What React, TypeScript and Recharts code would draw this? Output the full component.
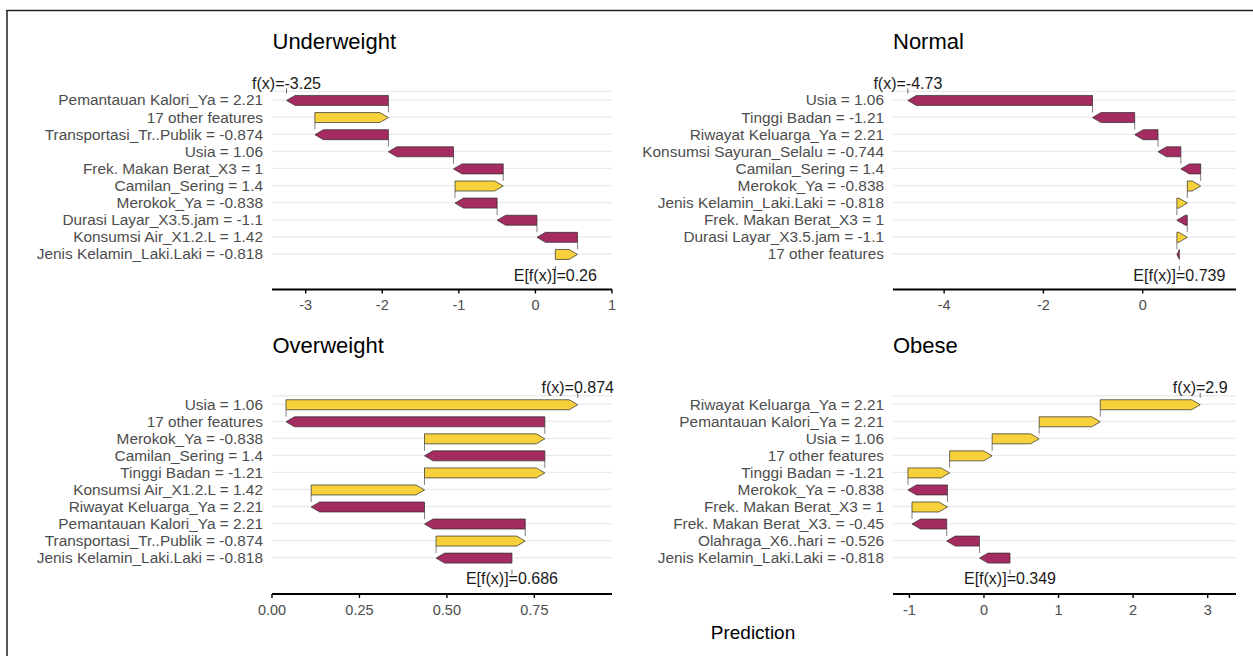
import React from 'react';
import { Bar, BarChart, CartesianGrid, XAxis, YAxis } from 'recharts';

const YELLOW = '#f6d13b';
const PURPLE = '#a52c60';
const FONT = '"Liberation Sans", Arial, sans-serif';
const HEAD = 8.5;
const ROW_GAP = 7;

// rows are listed top to bottom, values are SHAP contributions
const underweightFeatures = [
  'Pemantauan Kalori_Ya = 2.21',
  '17 other features',
  'Transportasi_Tr..Publik = -0.874',
  'Usia = 1.06',
  'Frek. Makan Berat_X3 = 1',
  'Camilan_Sering = 1.4',
  'Merokok_Ya = -0.838',
  'Durasi Layar_X3.5.jam = -1.1',
  'Konsumsi Air_X1.2.L = 1.42',
  'Jenis Kelamin_Laki.Laki = -0.818',
];
const underweightShap = [-1.33, 0.96, -0.96, -0.85, -0.65, 0.63, -0.55, -0.52, -0.53, 0.29];
const underweightBase = 0.26;
const underweightTicks = [-3, -2, -1, 0, 1];

const normalFeatures = [
  'Usia = 1.06',
  'Tinggi Badan = -1.21',
  'Riwayat Keluarga_Ya = 2.21',
  'Konsumsi Sayuran_Selalu = -0.744',
  'Camilan_Sering = 1.4',
  'Merokok_Ya = -0.838',
  'Jenis Kelamin_Laki.Laki = -0.818',
  'Frek. Makan Berat_X3 = 1',
  'Durasi Layar_X3.5.jam = -1.1',
  '17 other features',
];
const normalShap = [-3.72, -0.85, -0.47, -0.46, -0.4, 0.27, 0.21, -0.21, 0.21, -0.05];
const normalBase = 0.739;
const normalTicks = [-4, -2, 0];

const overweightFeatures = [
  'Usia = 1.06',
  '17 other features',
  'Merokok_Ya = -0.838',
  'Camilan_Sering = 1.4',
  'Tinggi Badan = -1.21',
  'Konsumsi Air_X1.2.L = 1.42',
  'Riwayat Keluarga_Ya = 2.21',
  'Pemantauan Kalori_Ya = 2.21',
  'Transportasi_Tr..Publik = -0.874',
  'Jenis Kelamin_Laki.Laki = -0.818',
];
const overweightShap = [0.834, -0.74, 0.344, -0.344, 0.344, 0.324, -0.324, -0.288, 0.255, -0.217];
const overweightBase = 0.686;
const overweightTicks = [0, 0.25, 0.5, 0.75];

const obeseFeatures = [
  'Riwayat Keluarga_Ya = 2.21',
  'Pemantauan Kalori_Ya = 2.21',
  'Usia = 1.06',
  '17 other features',
  'Tinggi Badan = -1.21',
  'Merokok_Ya = -0.838',
  'Frek. Makan Berat_X3 = 1',
  'Frek. Makan Berat_X3. = -0.45',
  'Olahraga_X6..hari = -0.526',
  'Jenis Kelamin_Laki.Laki = -0.818',
];
const obeseShap = [1.34, 0.82, 0.63, 0.57, 0.56, -0.53, 0.475, -0.465, -0.44, -0.409];
const obeseBase = 0.349;
const obeseTicks = [-1, 0, 1, 2, 3];

type Row = { label: string; start: number; end: number };

function buildRows(labels: string[], shap: number[], base: number): Row[] {
  const rows = labels.map((label) => ({ label, start: 0, end: 0 }));
  let acc = base;
  for (let i = labels.length - 1; i >= 0; i--) {
    rows[i].start = acc;
    acc += shap[i];
    rows[i].end = acc;
  }
  return rows;
}

const fmt = (v: number) => String(Number(v.toPrecision(3)));

function makeArrow(nRows: number) {
  return (props: any) => {
    const { x, y, width, height, payload, index } = props;
    const left = Math.min(x, x + width);
    const right = Math.max(x, x + width);
    const up = payload.end >= payload.start;
    const head = Math.min(HEAD, right - left);
    const yb = y + height;
    const ym = y + height / 2;
    const pts = up
      ? [[left, y], [right - head, y], [right, ym], [right - head, yb], [left, yb]]
      : [[right, y], [left + head, y], [left, ym], [left + head, yb], [right, yb]];
    const endX = up ? right : left;
    const startX = up ? left : right;
    return (
      <g>
        <polygon
          points={pts.map((p) => p.join(',')).join(' ')}
          fill={up ? YELLOW : PURPLE}
          stroke="#2b2b2b"
          strokeWidth={0.7}
        />
        {index < nRows - 1 && (
          <line x1={startX} x2={startX} y1={yb} y2={yb + ROW_GAP} stroke="#2b2b2b" strokeWidth={0.6} />
        )}
        {index === 0 && (
          <g>
            <line x1={endX} x2={endX} y1={ym - 12} y2={ym - 7} stroke="#2b2b2b" strokeWidth={0.7} />
            <text x={endX} y={ym - 11.5} textAnchor="middle" fontSize={16} fill="#1a1a1a">
              {`f(x)=${fmt(payload.end)}`}
            </text>
          </g>
        )}
        {index === nRows - 1 && (
          <g>
            <line x1={startX} x2={startX} y1={ym + 11.5} y2={ym + 16.5} stroke="#2b2b2b" strokeWidth={0.7} />
            <text x={startX} y={ym + 26.3} textAnchor="middle" fontSize={16} fill="#1a1a1a">
              {`E[f(x)]=${fmt(payload.start)}`}
            </text>
          </g>
        )}
      </g>
    );
  };
}

type PanelProps = {
  rows: Row[];
  domain: [number, number];
  ticks: number[];
  tickFmt: (v: number) => string;
  left: number;
  top: number;
  width: number;
  yWidth: number;
  marginRight: number;
  marginTop: number;
  axisHeight: number;
  padBottom: number;
};

function Panel(p: PanelProps) {
  return (
    <div style={{ position: 'absolute', left: p.left, top: p.top }}>
      <BarChart
        width={p.width}
        height={260}
        data={p.rows}
        layout="vertical"
        margin={{ top: p.marginTop, right: p.marginRight, bottom: 0, left: 0 }}
      >
        <CartesianGrid vertical={false} stroke="#EBEBEB" strokeWidth={1.3} />
        <XAxis
          type="number"
          domain={p.domain}
          ticks={p.ticks}
          tickFormatter={p.tickFmt}
          height={p.axisHeight}
          axisLine={{ stroke: '#000', strokeWidth: 2.2 }}
          tickLine={{ stroke: '#000', strokeWidth: 1.4 }}
          tickSize={4}
          tickMargin={6.5}
          tick={{ fill: '#4D4D4D', fontSize: 14.5 }}
        />
        <YAxis
          type="category"
          dataKey="label"
          width={p.yWidth}
          interval={0}
          axisLine={false}
          tickLine={false}
          tickSize={0}
          tickMargin={9}
          padding={{ top: 0, bottom: p.padBottom }}
          tick={{ fill: '#4D4D4D', fontSize: 15.4 }}
        />
        <Bar
          dataKey={(d: Row) => [Math.min(d.start, d.end), Math.max(d.start, d.end)]}
          barSize={10}
          shape={makeArrow(p.rows.length)}
          isAnimationActive={false}
        />
      </BarChart>
    </div>
  );
}

const plain = (v: number) => String(v);

export default function App() {
  const top = { top: 60, marginTop: 31.45, axisHeight: 30.5, padBottom: 26.95 };
  const bottom = { top: 364, marginTop: 31.75, axisHeight: 30, padBottom: 27.85 };
  const leftCol = { left: 0, width: 630, yWidth: 272, marginRight: 18 };
  const rightCol = { left: 630, width: 623, yWidth: 263, marginRight: 17 };
  return (
    <div style={{ fontFamily: FONT }}>
      <svg
        width={1253}
        height={656}
        style={{ position: 'absolute', left: 0, top: 0, fontFamily: FONT }}
      >
        <line x1={6.5} x2={1253} y1={10.5} y2={10.5} stroke="#222" strokeWidth={1.5} />
        <line x1={7} x2={7} y1={10} y2={656} stroke="#222" strokeWidth={1.5} />
        <text x={272.5} y={49} fontSize={22} fill="#000">Underweight</text>
        <text x={893} y={49} fontSize={22} fill="#000">Normal</text>
        <text x={272.5} y={353.3} fontSize={22} fill="#000">Overweight</text>
        <text x={893} y={353.3} fontSize={22} fill="#000">Obese</text>
        <text x={753} y={639} fontSize={19} fill="#000" textAnchor="middle">Prediction</text>
      </svg>
      <Panel
        rows={buildRows(underweightFeatures, underweightShap, underweightBase)}
        domain={[-3.44, 1.0]}
        ticks={underweightTicks}
        tickFmt={plain}
        {...top}
        {...leftCol}
      />
      <Panel
        rows={buildRows(normalFeatures, normalShap, normalBase)}
        domain={[-5.03, 1.88]}
        ticks={normalTicks}
        tickFmt={plain}
        {...top}
        {...rightCol}
      />
      <Panel
        rows={buildRows(overweightFeatures, overweightShap, overweightBase)}
        domain={[0, 0.972]}
        ticks={overweightTicks}
        tickFmt={(v: number) => v.toFixed(2)}
        {...bottom}
        {...leftCol}
      />
      <Panel
        rows={buildRows(obeseFeatures, obeseShap, obeseBase)}
        domain={[-1.22, 3.38]}
        ticks={obeseTicks}
        tickFmt={plain}
        {...bottom}
        {...rightCol}
      />
    </div>
  );
}
